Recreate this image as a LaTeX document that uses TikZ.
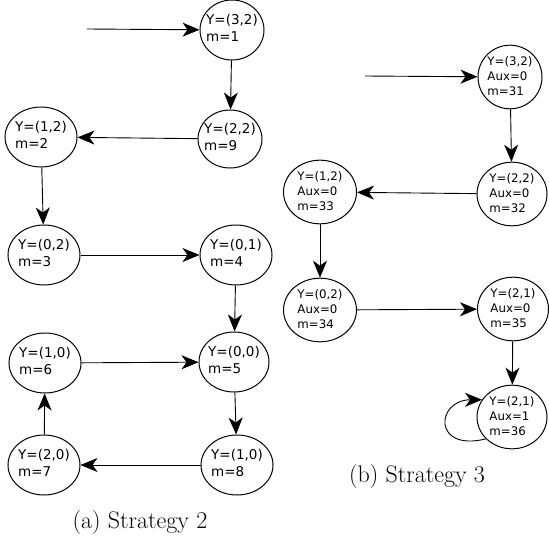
\documentclass[tikz,border=0pt]{standalone}
\usepackage{fontspec}
\usetikzlibrary{shapes.geometric,arrows.meta}
\newfontfamily\etatfont{DejaVu Sans}
\newcommand\etiq[1]{\makebox[0pt]{\begin{tabular}{@{}l@{}}#1\end{tabular}}}

\begin{document}
\begin{tikzpicture}[x=1pt, y=-1pt,
    etat/.style={draw, ellipse, line width=1pt, inner sep=0pt,
      minimum width=72pt, minimum height=60pt,
      font=\etatfont\fontsize{13.5}{16.7}\selectfont},
    petit/.style={etat, minimum width=71pt, minimum height=61pt,
      font=\etatfont\fontsize{11.8}{15}\selectfont},
    fleche/.style={-{Stealth[length=17pt, width=14pt, inset=5pt]}, line width=0.9pt},
    legende/.style={font=\fontsize{24}{28}\selectfont}]
    \useasboundingbox (0,0) rectangle (549,541);
    % stratégie 2
    \coordinate (entreeA) at (87,29);
    \node[etat, minimum width=64pt] (m1) at (232,30) {\etiq{Y=(3,2)\\m=1}};
    \node[etat, minimum width=64pt, minimum height=58pt] (m9) at (230,139) {\etiq{Y=(2,2)\\m=9}};
    \node[etat] (m2) at (41,137) {\etiq{Y=(1,2)\\m=2}};
    \node[etat] (m3) at (44,255) {\etiq{Y=(0,2)\\m=3}};
    \node[etat] (m4) at (236,255) {\etiq{Y=(0,1)\\m=4}};
    \node[etat, minimum width=70pt] (m5) at (234,362) {\etiq{Y=(0,0)\\m=5}};
    \node[etat] (m6) at (45,363) {\etiq{Y=(1,0)\\m=6}};
    \node[etat] (m7) at (44,465) {\etiq{Y=(2,0)\\m=7}};
    \node[etat] (m8) at (237,465) {\etiq{Y=(1,0)\\m=8}};
    \draw[fleche] (entreeA) -- (m1);
    \draw[fleche] (m1) -- (m9);
    \draw[fleche] (m9) -- (m2);
    \draw[fleche] (m2) -- (m3);
    \draw[fleche] (m3) -- (m4);
    \draw[fleche] (m4) -- (m5);
    \draw[fleche] (m5) -- (m8);
    \draw[fleche] (m8) -- (m7);
    \draw[fleche] (m7) -- (m6);
    \draw[fleche] (m6) -- (m5);
    \node[legende] (legA) at (140,523) {(a) Strategy 2};
    % stratégie 3
    \coordinate (entreeB) at (365,76);
    \node[petit, minimum width=64pt, minimum height=63pt] (a31) at (510,77) {\etiq{Y=(3,2)\\Aux=0\\m=31}};
    \node[petit, minimum width=70pt] (a32) at (512,194) {\etiq{Y=(2,2)\\Aux=0\\m=32}};
    \node[petit, minimum width=73pt, minimum height=60pt] (a33) at (320,192) {\etiq{Y=(1,2)\\Aux=0\\m=33}};
    \node[petit, minimum width=73pt] (a34) at (320,310) {\etiq{Y=(0,2)\\Aux=0\\m=34}};
    \node[petit] (a35) at (513,309) {\etiq{Y=(2,1)\\Aux=0\\m=35}};
    \node[petit, minimum width=70pt] (a36) at (512,417) {\etiq{Y=(2,1)\\Aux=1\\m=36}};
    \draw[fleche] (entreeB) -- (a31);
    \draw[fleche] (a31) -- (a32);
    \draw[fleche] (a32) -- (a33);
    \draw[fleche] (a33) -- (a34);
    \draw[fleche] (a34) -- (a35);
    \draw[fleche] (a35) -- (a36);
    \draw[fleche] (a36.220) .. controls (432,452) and (436,400) .. (a36.150);
    \node[legende] (legB) at (417,477) {(b) Strategy 3};
\end{tikzpicture}
\end{document}
